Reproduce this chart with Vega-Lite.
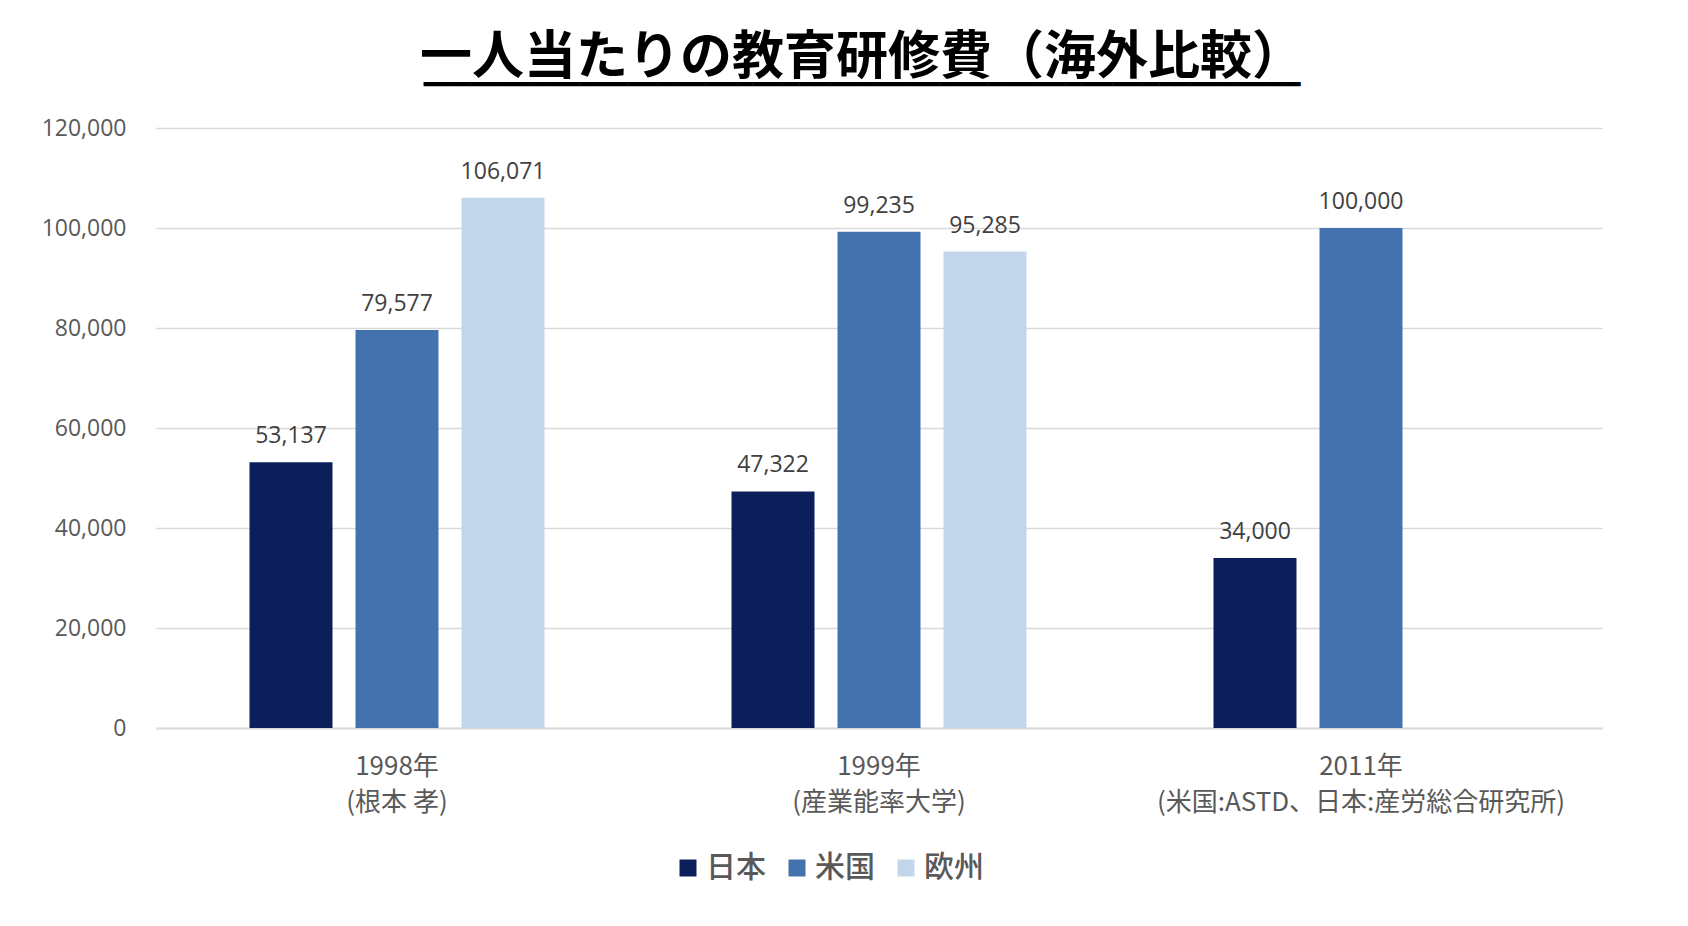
{
  "$schema": "https://vega.github.io/schema/vega-lite/v6.json",
  "autosize": {"type": "none"},
  "padding": {"left": 156, "top": 128, "right": 86, "bottom": 198},
  "width": 1446,
  "height": 600,
  "background": "white",
  "config": {"view": {"stroke": null}},
  "title": {
    "text": "一人当たりの教育研修費（海外比較）",
    "subtitle": "━━━━━━━━━━━━━━━━━━━━━━━━━━━━━━━━━━━━━━━━━━━━━━━━━━━━━━━━",
    "anchor": "middle",
    "dx": -17,
    "offset": 18,
    "font": "Noto Sans CJK JP",
    "fontSize": 52,
    "fontWeight": "bold",
    "color": "#000000",
    "subtitleFont": "DejaVu Sans",
    "subtitleFontSize": 26,
    "subtitleColor": "#000000",
    "subtitlePadding": -13
  },
  "data": {
    "values": [
      {"period": "1998年|(根本 孝)", "region": "日本", "cost": 53137},
      {"period": "1998年|(根本 孝)", "region": "米国", "cost": 79577},
      {"period": "1998年|(根本 孝)", "region": "欧州", "cost": 106071},
      {"period": "1999年|(産業能率大学)", "region": "日本", "cost": 47322},
      {"period": "1999年|(産業能率大学)", "region": "米国", "cost": 99235},
      {"period": "1999年|(産業能率大学)", "region": "欧州", "cost": 95285},
      {"period": "2011年|(米国:ASTD、日本:産労総合研究所)", "region": "日本", "cost": 34000},
      {"period": "2011年|(米国:ASTD、日本:産労総合研究所)", "region": "米国", "cost": 100000}
    ]
  },
  "encoding": {
    "x": {
      "field": "period",
      "type": "nominal",
      "sort": null,
      "scale": {"paddingInner": 0, "paddingOuter": 0},
      "axis": {
        "title": null,
        "labelAngle": 0,
        "labelExpr": "split(datum.label, '|')",
        "labelFont": "Noto Sans CJK JP",
        "labelFontSize": 26,
        "labelColor": "#595959",
        "labelLineHeight": 36,
        "labelPadding": 25,
        "labelBaseline": "top",
        "labelLimit": 700,
        "ticks": false,
        "domain": true,
        "domainColor": "#D9D9D9",
        "domainWidth": 2,
        "grid": false
      }
    },
    "xOffset": {
      "field": "region",
      "type": "nominal",
      "sort": ["日本", "米国", "欧州"],
      "scale": {"domain": ["日本", "米国", "欧州"], "paddingInner": 0.217, "paddingOuter": 0.882}
    },
    "y": {
      "field": "cost",
      "type": "quantitative",
      "scale": {"domain": [0, 120000], "nice": false},
      "axis": {
        "title": null,
        "values": [0, 20000, 40000, 60000, 80000, 100000, 120000],
        "format": ",.0f",
        "labelFont": "Open Sans",
        "labelFontSize": 23,
        "labelColor": "#595959",
        "labelPadding": 30,
        "ticks": false,
        "domain": false,
        "gridColor": "#D9D9D9",
        "gridWidth": 1.5
      }
    }
  },
  "layer": [
    {
      "mark": {"type": "bar"},
      "encoding": {
        "color": {
          "field": "region",
          "type": "nominal",
          "sort": ["日本", "米国", "欧州"],
          "scale": {"domain": ["日本", "米国", "欧州"], "range": ["#0C1F5A", "#4472AE", "#C3D5EB"]},
          "legend": {
            "title": null,
            "orient": "none",
            "direction": "horizontal",
            "legendX": 517,
            "legendY": 725,
            "symbolType": "square",
            "symbolSize": 289,
            "symbolStrokeWidth": 0,
            "symbolOpacity": 1,
            "labelFont": "Noto Sans CJK JP",
            "labelFontSize": 30,
            "labelFontWeight": 500,
            "labelColor": "#595959",
            "labelOffset": 3,
            "columnPadding": 16,
            "padding": 0
          }
        }
      }
    },
    {
      "mark": {"type": "text", "baseline": "bottom", "dy": -14, "font": "Open Sans", "fontSize": 23, "color": "#404040"},
      "encoding": {
        "text": {"field": "cost", "type": "quantitative", "format": ","}
      }
    }
  ]
}
